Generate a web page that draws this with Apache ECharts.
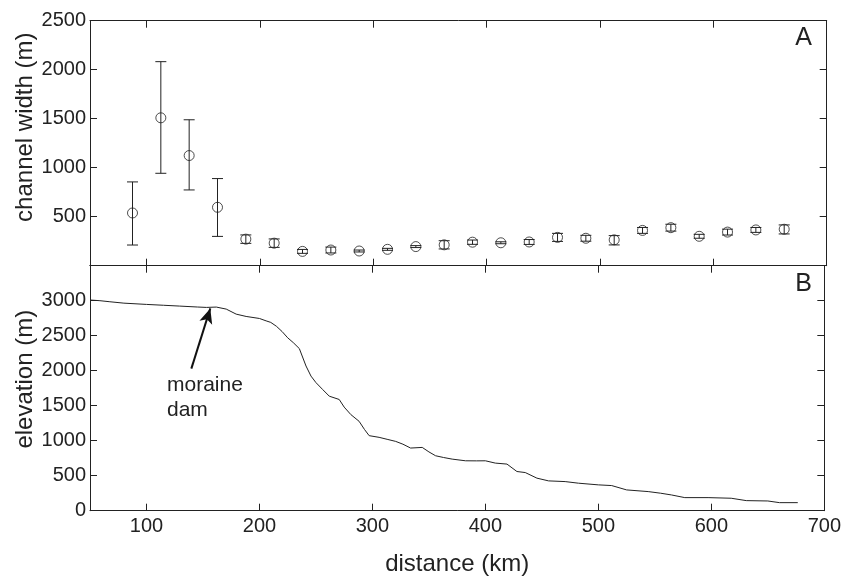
<!DOCTYPE html>
<html>
<head>
<meta charset="utf-8">
<script src="https://cdn.jsdelivr.net/npm/echarts@6/dist/echarts.min.js"></script>
<style>html,body{margin:0;padding:0;background:#fff;}#c{width:844px;height:578px;}</style>
</head>
<body>
<div id="c"></div>
<script>
// Panel A: channel width with error bars
const widthDistance = [87.5,112.5,137.5,162.5,187.5,212.5,237.5,262.5,287.5,312.5,337.5,362.5,387.5,412.5,437.5,462.5,487.5,512.5,537.5,562.5,587.5,612.5,637.5,662.5];
const channelWidth  = [538,1509,1124,596,271,230,146,160,150,167,195,213,240,234,242,289,280,264,360,388,300,343,365,372];
const widthLower    = [211,943,773,299,228,187,126,130,140,157,185,171,218,224,217,248,250,212,330,353,280,313,340,324];
const widthUpper    = [855,2082,1489,889,314,273,166,190,160,177,205,255,262,244,267,330,310,307,390,423,320,373,390,416];

// Panel B: elevation profile
const elevDistance = [50,58.8,67.6,80,100,115,129.4,145,153,161.8,170.6,179.4,188.2,200,205.9,210,215,220,225,230,235.3,241.2,245.6,250,255.9,261.8,270.6,275,280.9,288.2,293,297.1,305.9,313,320.6,327,333.8,344.1,350,355.9,363,370.6,382.4,392,400,408.8,419.1,427.9,435.3,445.6,455.9,470.6,482.4,500,511.8,525,544.1,555,564.7,576.5,597.1,617.6,630.9,650,660.3,676.5];
const elevation    = [3010,3000,2985,2965,2947,2935,2923,2910,2904,2909,2880,2808,2775,2746,2712,2690,2635,2560,2470,2400,2316,2067,1923,1830,1732,1636,1589,1480,1373,1277,1160,1072,1048,1020,990,950,895,904,840,785,760,737,713,712,713,680,666,560,545,465,426,416,393,369,359,297,273,250,225,187,187,178,144,139,115,115];

// Axis ticks
const xTicks = {min:50, max:700, interval:100};
const widthTicks = {min:0, max:2500, interval:500};
const elevTicks = {min:0, max:3500, interval:500};

// Annotation (data coords)
const arrowFrom = [139.7, 2029];
const arrowTo = [156.5, 2890];
const annotationText = 'moraine\ndam';

const FONT = "'Liberation Sans', Arial, sans-serif";
const TXT = '#222';
const AX = '#222';

const chart = echarts.init(document.getElementById('c'), null, {renderer:'canvas'});

const gridL = 90, gridR = 17.3, topA = 20.7, h = 245, topB = 265.7;

function xAxisCfg(gridIndex, position, showLabels, name) {
  return {
    type:'value', gridIndex, position,
    min:xTicks.min, max:xTicks.max, interval:xTicks.interval,
    axisLine:{show:true, onZero:false, lineStyle:{color:AX, width:1}},
    axisTick:{show:true, inside:true, length:7, lineStyle:{color:AX, width:1},
      customValues:[100,200,300,400,500,600]},
    axisLabel:{show:showLabels, fontSize:20, color:TXT, fontFamily:FONT, margin:6,
      customValues:[100,200,300,400,500,600,700]},
    splitLine:{show:false},
    name: name || '', nameLocation:'middle', nameGap:42,
    nameTextStyle:{fontSize:24, color:TXT, fontFamily:FONT}
  };
}
function yAxisCfg(gridIndex, position, ticks, showLabels, hideVal) {
  return {
    type:'value', gridIndex, position,
    min:ticks.min, max:ticks.max, interval:ticks.interval,
    axisLine:{show:true, onZero:false, lineStyle:{color:AX, width:1}},
    axisTick:{show:true, inside:true, length:7, lineStyle:{color:AX, width:1}},
    axisLabel:{show:showLabels, fontSize:20, color:TXT, fontFamily:FONT, margin:4,
      formatter: v => (hideVal.includes(v) ? '' : String(v))},
    splitLine:{show:false}
  };
}

const errData = widthDistance.map((d,i)=>[d, widthLower[i], widthUpper[i]]);
const ptData = widthDistance.map((d,i)=>[d, channelWidth[i]]);
const elevData = elevDistance.map((d,i)=>[d, elevation[i]]);

const option = {
  animation:false,
  backgroundColor:'#fff',
  grid:[
    {left:gridL, right:gridR, top:topA, height:h, containLabel:false},
    {left:gridL, right:gridR, top:topB, height:h, containLabel:false}
  ],
  xAxis:[
    xAxisCfg(0,'bottom',false),
    xAxisCfg(0,'top',false),
    xAxisCfg(1,'bottom',true,'distance (km)'),
    xAxisCfg(1,'top',false)
  ],
  yAxis:[
    yAxisCfg(0,'left',widthTicks,true,[0]),
    yAxisCfg(0,'right',widthTicks,false,[]),
    yAxisCfg(1,'left',elevTicks,true,[3500]),
    yAxisCfg(1,'right',elevTicks,false,[])
  ],
  series:[
    {
      type:'custom', xAxisIndex:0, yAxisIndex:0,
      data: errData,
      encode:{x:0, y:[1,2]},
      renderItem:(params, api)=>{
        const x = api.value(0), lo = api.value(1), hi = api.value(2);
        const a = api.coord([x, lo]), b = api.coord([x, hi]);
        const hw = 5.5;
        const st = {stroke:'#222', lineWidth:1};
        return {type:'group', children:[
          {type:'line', shape:{x1:a[0], y1:a[1], x2:b[0], y2:b[1]}, style:st},
          {type:'line', shape:{x1:a[0]-hw, y1:a[1], x2:a[0]+hw, y2:a[1]}, style:st},
          {type:'line', shape:{x1:b[0]-hw, y1:b[1], x2:b[0]+hw, y2:b[1]}, style:st}
        ]};
      },
      silent:true, z:2
    },
    {
      type:'scatter', xAxisIndex:0, yAxisIndex:0,
      data: ptData, symbol:'circle', symbolSize:10,
      itemStyle:{color:'rgba(0,0,0,0)', borderColor:'#222', borderWidth:1},
      silent:true, z:3
    },
    {
      type:'line', xAxisIndex:2, yAxisIndex:2,
      data: elevData, showSymbol:false, symbol:'none',
      lineStyle:{color:'#222', width:1},
      silent:true,
      markLine:{
        silent:true, symbol:['none','arrow'], symbolSize:[10,15],
        lineStyle:{color:'#111', width:2, type:'solid'},
        label:{show:false},
        data:[[{coord:arrowFrom},{coord:arrowTo}]]
      }
    }
  ],
  graphic:[
    {type:'text', x:25, y:(topA+ topA+h)/2 - 16, rotation:Math.PI/2,
      style:{text:'channel width (m)', font:'24px '+FONT, fill:TXT, textAlign:'center', textVerticalAlign:'middle', align:'center', verticalAlign:'middle'}},
    {type:'text', x:25, y:(topB+topB+h)/2 - 9, rotation:Math.PI/2,
      style:{text:'elevation (m)', font:'24px '+FONT, fill:TXT, textAlign:'center', textVerticalAlign:'middle', align:'center', verticalAlign:'middle'}},
    {type:'text', x:812, y:26,
      style:{text:'A', font:'25px '+FONT, fill:TXT, textAlign:'right', align:'right', textVerticalAlign:'top', verticalAlign:'top'}},
    {type:'text', x:812, y:272,
      style:{text:'B', font:'25px '+FONT, fill:TXT, textAlign:'right', align:'right', textVerticalAlign:'top', verticalAlign:'top'}},
    {type:'text', x:167, y:373,
      style:{text:annotationText, font:'21px '+FONT, fill:TXT, lineHeight:25, textAlign:'left', align:'left', textVerticalAlign:'top', verticalAlign:'top'}}
  ]
};
chart.setOption(option);
</script>
</body>
</html>
